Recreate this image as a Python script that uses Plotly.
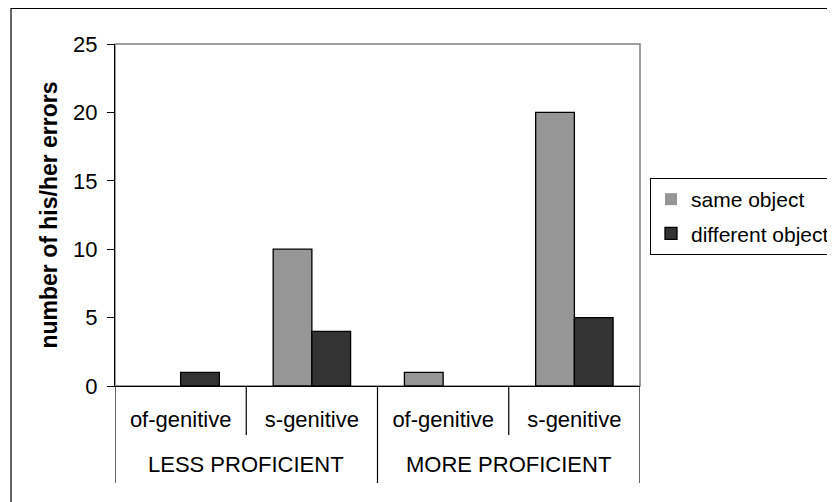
import plotly.graph_objects as go

groups = ["LESS PROFICIENT", "LESS PROFICIENT", "MORE PROFICIENT", "MORE PROFICIENT"]
forms = ["of-genitive", "s-genitive", "of-genitive", "s-genitive"]
same_object = [0, 10, 1, 20]
different_object = [1, 4, 0, 5]
y_ticks = [0, 5, 10, 15, 20, 25]

FONT = "Liberation Sans, Arial, sans-serif"
FS = 22

xpos = list(range(len(forms)))

def outline(vals):
    # no outline for empty (zero) bars
    return [0 if v == 0 else 1.3 for v in vals]

fig = go.Figure()
fig.add_trace(go.Bar(x=xpos, y=same_object, name="same object", legendgroup="a",
                     marker=dict(color="#969696",
                                 line=dict(color="#000000", width=outline(same_object)))))
fig.add_trace(go.Bar(x=xpos, y=different_object, name="different object", legendgroup="b",
                     marker=dict(color="#333333",
                                 line=dict(color="#000000", width=outline(different_object)))))

# page has an 8px body margin; figure is sized/offset to compensate
W, H = 827, 494
L, R, T, B = 107, 195, 36, 116
PW, PH = W - L - R, H - T - B

def py(px_below_axis):
    return -px_below_axis / PH

shapes = [
    # plot-area frame (grey top/right)
    dict(type="rect", xref="paper", yref="paper", x0=0, x1=1, y0=0, y1=1,
         line=dict(color="#808080", width=1.5), layer="below"),
    # outer chart frame (only top and left fall inside the view)
    dict(type="rect", xref="paper", yref="paper",
         x0=(3 - L) / PW, x1=(W + 10 - L) / PW,
         y0=-(B + 10) / PH, y1=(H - B - 0.5) / PH,
         line=dict(color="#000000", width=1.2)),
]

# category separators
n = len(forms)
for i in range(n + 1):
    b = i - 0.5
    outer = (i == 0) or (i == n) or (groups[i] != groups[i - 1])
    shapes.append(dict(type="line", xref="x", yref="paper", x0=b, x1=b,
                       y0=0, y1=py(97 if outer else 49),
                       line=dict(color="#000000", width=1.2)))

annotations = []
seen = []
for g in groups:
    if g not in seen:
        seen.append(g)
for g in seen:
    idx = [i for i, gg in enumerate(groups) if gg == g]
    annotations.append(dict(x=sum(idx) / len(idx), y=py(79), xref="x", yref="paper",
                            text=g, showarrow=False, yanchor="middle", xanchor="center",
                            font=dict(size=FS, family=FONT, color="#000000")))

fig.update_layout(
    width=W, height=H,
    margin=dict(l=L, r=R, t=T, b=B, pad=0, autoexpand=False),
    barmode="group", bargap=0.41, bargroupgap=0,
    plot_bgcolor="white", paper_bgcolor="white",
    font=dict(family=FONT, size=FS, color="#000000"),
    showlegend=True,
    legend=dict(x=(642 - L) / PW, y=1 - (170 - T) / PH, xanchor="left", yanchor="top",
                bordercolor="#000000", borderwidth=1, bgcolor="white",
                font=dict(size=21, family=FONT, color="#000000"),
                tracegroupgap=4, itemwidth=30),
    shapes=shapes,
    annotations=annotations,
)

fig.update_xaxes(
    range=[-0.5, n - 0.5], tickvals=xpos, ticktext=forms,
    showline=True, linecolor="#000000", linewidth=1.2,
    ticks="", ticklabelstandoff=13,
    showgrid=False, zeroline=False,
    tickfont=dict(size=FS, family=FONT, color="#000000"),
)
fig.update_yaxes(
    range=[0, 25], tickvals=y_ticks,
    showline=True, linecolor="#000000", linewidth=1.2,
    ticks="outside", ticklen=7, tickcolor="#000000", tickwidth=1.2,
    ticklabelstandoff=5,
    showgrid=False, zeroline=False,
    tickfont=dict(size=FS, family=FONT, color="#000000"),
    title=dict(text="<b>number of his/her errors</b>", standoff=8,
               font=dict(size=23, family=FONT, color="#000000")),
)

fig.write_html("out.html")
